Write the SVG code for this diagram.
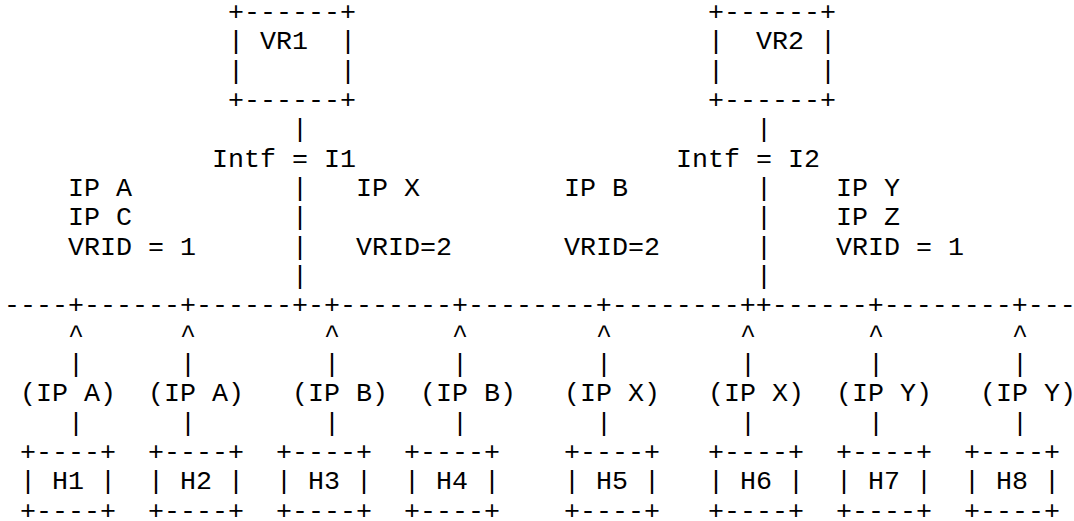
<svg xmlns="http://www.w3.org/2000/svg" width="1074" height="521" viewBox="0 0 1074 521">
<style>
text { font-family: "Liberation Mono", "Courier New", monospace; font-size: 26.667px; fill: #000; white-space: pre; }
</style>
<rect x="0" y="0" width="1074" height="521" fill="#fff"/>
<g id="VR1">
<text x="228" y="20">+------+</text>
<text x="228" y="49.33">| VR1  |</text>
<text x="228" y="78.67">|      |</text>
<text x="228" y="108">+------+</text>
</g>
<g id="VR2">
<text x="708" y="20">+------+</text>
<text x="708" y="49.33">|  VR2 |</text>
<text x="708" y="78.67">|      |</text>
<text x="708" y="108">+------+</text>
</g>
<g id="connectors">
<text x="292" y="137.33">|</text><text x="756" y="137.33">|</text>
<text x="292" y="196">|</text><text x="756" y="196">|</text>
<text x="292" y="225.33">|</text><text x="756" y="225.33">|</text>
<text x="292" y="254.67">|</text><text x="756" y="254.67">|</text>
<text x="292" y="284">|</text><text x="756" y="284">|</text>
<text x="4" y="313.33">----+------+------+-+-------+--------+--------++------+--------+---</text>
<text x="68" y="342.67">^</text><text x="180" y="342.67">^</text><text x="324" y="342.67">^</text><text x="452" y="342.67">^</text><text x="596" y="342.67">^</text><text x="740" y="342.67">^</text><text x="868" y="342.67">^</text><text x="1012" y="342.67">^</text>
<text x="68" y="372">|</text><text x="180" y="372">|</text><text x="324" y="372">|</text><text x="452" y="372">|</text><text x="596" y="372">|</text><text x="740" y="372">|</text><text x="868" y="372">|</text><text x="1012" y="372">|</text>
<text x="20" y="401.33">(IP A)</text><text x="148" y="401.33">(IP A)</text><text x="292" y="401.33">(IP B)</text><text x="420" y="401.33">(IP B)</text><text x="564" y="401.33">(IP X)</text><text x="708" y="401.33">(IP X)</text><text x="836" y="401.33">(IP Y)</text><text x="980" y="401.33">(IP Y)</text>
<text x="68" y="430.67">|</text><text x="180" y="430.67">|</text><text x="324" y="430.67">|</text><text x="452" y="430.67">|</text><text x="596" y="430.67">|</text><text x="740" y="430.67">|</text><text x="868" y="430.67">|</text><text x="1012" y="430.67">|</text>
</g>
<g id="labels">
<text x="212" y="166.67">Intf = I1</text>
<text x="676" y="166.67">Intf = I2</text>
<text x="68" y="196">IP A</text>
<text x="356" y="196">IP X</text>
<text x="564" y="196">IP B</text>
<text x="836" y="196">IP Y</text>
<text x="68" y="225.33">IP C</text>
<text x="836" y="225.33">IP Z</text>
<text x="68" y="254.67">VRID = 1</text>
<text x="356" y="254.67">VRID=2</text>
<text x="564" y="254.67">VRID=2</text>
<text x="836" y="254.67">VRID = 1</text>
</g>
<g id="H1"><text x="20" y="460">+----+</text><text x="20" y="489.33">| H1 |</text><text x="20" y="518.67">+----+</text></g>
<g id="H2"><text x="148" y="460">+----+</text><text x="148" y="489.33">| H2 |</text><text x="148" y="518.67">+----+</text></g>
<g id="H3"><text x="276" y="460">+----+</text><text x="276" y="489.33">| H3 |</text><text x="276" y="518.67">+----+</text></g>
<g id="H4"><text x="404" y="460">+----+</text><text x="404" y="489.33">| H4 |</text><text x="404" y="518.67">+----+</text></g>
<g id="H5"><text x="564" y="460">+----+</text><text x="564" y="489.33">| H5 |</text><text x="564" y="518.67">+----+</text></g>
<g id="H6"><text x="708" y="460">+----+</text><text x="708" y="489.33">| H6 |</text><text x="708" y="518.67">+----+</text></g>
<g id="H7"><text x="836" y="460">+----+</text><text x="836" y="489.33">| H7 |</text><text x="836" y="518.67">+----+</text></g>
<g id="H8"><text x="964" y="460">+----+</text><text x="964" y="489.33">| H8 |</text><text x="964" y="518.67">+----+</text></g>
</svg>
